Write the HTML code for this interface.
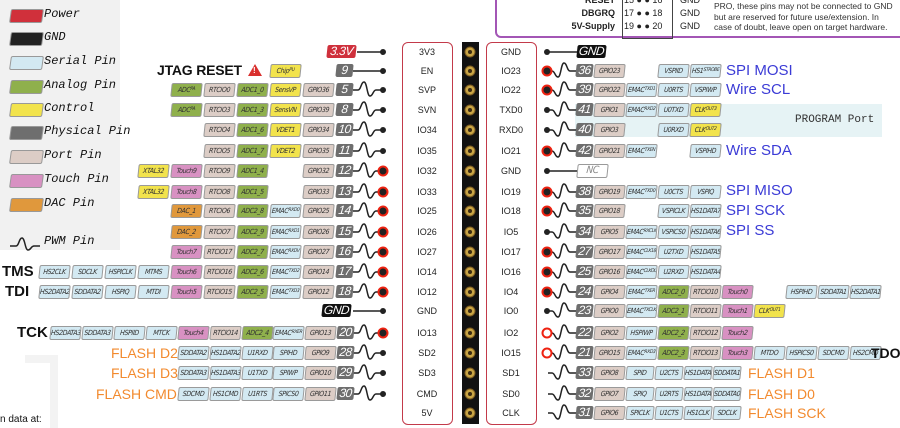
<!DOCTYPE html>
<html><head><meta charset="utf-8"><style>
html,body{margin:0;padding:0;background:#fff;}
#r{position:relative;width:900px;height:428px;overflow:hidden;font-family:"Liberation Sans",sans-serif;}
.t{position:absolute;width:29px;height:12px;border:1px solid #9a9a9a;border-radius:2px;font-style:italic;font-family:"DejaVu Sans Condensed","Liberation Sans Narrow","Liberation Sans",sans-serif;font-size:7px;line-height:12px;text-align:center;color:#333;white-space:nowrap;overflow:hidden;letter-spacing:-0.4px;transform:skewX(-6deg);}
.t sup{font-size:5px;vertical-align:2px;line-height:0;}
.p{background:#dccdc6;}.a{background:#8fb04c;}.c{background:#f2e34c;}.s{background:#d3e9f2;}.h{background:#d891c2;}.d{background:#e0983c;}
.n{position:absolute;width:17px;height:13px;background:#6e6e6e;color:#fff;font-style:italic;font-size:12px;line-height:13px;text-align:center;border-radius:2px;transform:skewX(-6deg);letter-spacing:-0.5px;}
.lb{position:absolute;font-size:9px;width:48px;text-align:center;color:#222;}
.lg{position:absolute;left:44px;font-style:italic;font-size:12px;font-family:"Liberation Mono",monospace;color:#111;}
.sw{position:absolute;left:10px;width:31px;height:12px;border:1px solid #999;border-radius:2px;transform:skewX(-8deg);}
.bl{position:absolute;font-size:15px;color:#3b3bd6;}
.or{position:absolute;font-size:14px;color:#f28a2e;}
.bk{position:absolute;font-size:15px;font-weight:bold;color:#111;}
.f .t{width:26px;}
</style></head><body><div id="r">

<div style="position:absolute;left:0;top:0;width:120px;height:250px;background:#f1f1f1;"></div>
<div class="sw" style="top:9px;background:#d0303b"></div><div class="lg" style="top:7px">Power</div>
<div class="sw" style="top:32px;background:#222"></div><div class="lg" style="top:30px">GND</div>
<div class="sw" style="top:56px;background:#d3e9f2"></div><div class="lg" style="top:54px">Serial Pin</div>
<div class="sw" style="top:80px;background:#8fb04c"></div><div class="lg" style="top:78px">Analog Pin</div>
<div class="sw" style="top:103px;background:#f2e34c"></div><div class="lg" style="top:101px">Control</div>
<div class="sw" style="top:126px;background:#6e6e6e"></div><div class="lg" style="top:124px">Physical Pin</div>
<div class="sw" style="top:150px;background:#dccdc6"></div><div class="lg" style="top:148px">Port Pin</div>
<div class="sw" style="top:174px;background:#d891c2"></div><div class="lg" style="top:172px">Touch Pin</div>
<div class="sw" style="top:198px;background:#e0983c"></div><div class="lg" style="top:196px">DAC Pin</div>
<div class="lg" style="top:234px">PWM Pin</div>
<div style="position:absolute;left:25px;top:355px;width:25px;height:65px;border-top:8px solid #f3f3f3;border-right:8px solid #f3f3f3;"></div>
<div style="position:absolute;left:0;top:414px;font-size:10px;color:#111">n data at:</div>

<div style="position:absolute;left:495px;top:-6px;width:420px;height:40px;border:2px solid #a356b5;border-radius:6px;"></div>
<div style="position:absolute;left:622px;top:-2px;width:49px;height:39px;border:1px solid #444;"></div>
<div style="position:absolute;left:520px;top:-6px;font-size:9px;font-weight:bold;color:#222;line-height:13px;text-align:right;width:95px;">RESET<br>DBGRQ<br>5V-Supply</div>
<div style="position:absolute;left:624px;top:-6px;font-size:9px;color:#222;line-height:13px;">15 ● ● 16<br>17 ● ● 18<br>19 ● ● 20</div>
<div style="position:absolute;left:680px;top:-6px;font-size:9px;color:#222;line-height:13px;">GND<br>GND<br>GND</div>
<div style="position:absolute;left:714px;top:1px;font-size:8.5px;color:#333;line-height:10.5px;">PRO,  these pins may not be connected to GND<br>but are reserved for future use/extension. In<br>case of doubt, leave open on target hardware.</div>

<div style="position:absolute;left:575px;top:104px;width:307px;height:33px;background:#e6f3f5;"></div>
<div style="position:absolute;left:795px;top:114px;font-size:11px;font-family:'Liberation Mono',monospace;color:#333;">PROGRAM Port</div>

<div style="position:absolute;left:402px;top:42px;width:49px;height:381px;border:1px solid #c33a4a;border-radius:6px;"></div>
<div style="position:absolute;left:486px;top:42px;width:49px;height:381px;border:1px solid #c33a4a;border-radius:6px;"></div>

<svg width="900" height="428" style="position:absolute;left:0;top:0" fill="none" stroke="#222" stroke-width="1.5">
<rect x="462" y="42" width="17" height="382" fill="#111" stroke="none"/>
<g fill="#c9a545" stroke="#7a5a20" stroke-width="1">
<circle cx="470" cy="52" r="5"/><circle cx="470" cy="71" r="5"/><circle cx="470" cy="90" r="5"/><circle cx="470" cy="110" r="5"/><circle cx="470" cy="130" r="5"/><circle cx="470" cy="151" r="5"/><circle cx="470" cy="171" r="5"/><circle cx="470" cy="192" r="5"/><circle cx="470" cy="211" r="5"/><circle cx="470" cy="232" r="5"/><circle cx="470" cy="252" r="5"/><circle cx="470" cy="272" r="5"/><circle cx="470" cy="292" r="5"/><circle cx="470" cy="311" r="5"/><circle cx="470" cy="333" r="5"/><circle cx="470" cy="353" r="5"/><circle cx="470" cy="373" r="5"/><circle cx="470" cy="394" r="5"/><circle cx="470" cy="413" r="5"/>
</g>
<g fill="#3a2a10" stroke="none">
<circle cx="470" cy="52" r="2"/><circle cx="470" cy="71" r="2"/><circle cx="470" cy="90" r="2"/><circle cx="470" cy="110" r="2"/><circle cx="470" cy="130" r="2"/><circle cx="470" cy="151" r="2"/><circle cx="470" cy="171" r="2"/><circle cx="470" cy="192" r="2"/><circle cx="470" cy="211" r="2"/><circle cx="470" cy="232" r="2"/><circle cx="470" cy="252" r="2"/><circle cx="470" cy="272" r="2"/><circle cx="470" cy="292" r="2"/><circle cx="470" cy="311" r="2"/><circle cx="470" cy="333" r="2"/><circle cx="470" cy="353" r="2"/><circle cx="470" cy="373" r="2"/><circle cx="470" cy="394" r="2"/><circle cx="470" cy="413" r="2"/>
</g>
<path d="M10,246 h6 c3,0 3,-8 6,-8 c3,0 3,12 6,12 c3,0 3,-4 6,-4 h6"/>
<path d="M357,52 h26 M353,71 h30 M353,311 h30"/>
<g>
<path d="M353,90 h5 c3,0 3,-8 6,-8 c3,0 3,14 6,14 c3,0 3,-6 6,-6 h7"/>
<path d="M353,110 h5 c3,0 3,-8 6,-8 c3,0 3,14 6,14 c3,0 3,-6 6,-6 h7"/>
<path d="M353,130 h5 c3,0 3,-8 6,-8 c3,0 3,14 6,14 c3,0 3,-6 6,-6 h7"/>
<path d="M353,151 h5 c3,0 3,-8 6,-8 c3,0 3,14 6,14 c3,0 3,-6 6,-6 h7"/>
<path d="M353,171 h5 c3,0 3,-8 6,-8 c3,0 3,14 6,14 c3,0 3,-6 6,-6 h7"/>
<path d="M353,192 h5 c3,0 3,-8 6,-8 c3,0 3,14 6,14 c3,0 3,-6 6,-6 h7"/>
<path d="M353,211 h5 c3,0 3,-8 6,-8 c3,0 3,14 6,14 c3,0 3,-6 6,-6 h7"/>
<path d="M353,232 h5 c3,0 3,-8 6,-8 c3,0 3,14 6,14 c3,0 3,-6 6,-6 h7"/>
<path d="M353,252 h5 c3,0 3,-8 6,-8 c3,0 3,14 6,14 c3,0 3,-6 6,-6 h7"/>
<path d="M353,272 h5 c3,0 3,-8 6,-8 c3,0 3,14 6,14 c3,0 3,-6 6,-6 h7"/>
<path d="M353,292 h5 c3,0 3,-8 6,-8 c3,0 3,14 6,14 c3,0 3,-6 6,-6 h7"/>
<path d="M353,333 h5 c3,0 3,-8 6,-8 c3,0 3,14 6,14 c3,0 3,-6 6,-6 h7"/>
<path d="M353,353 h5 c3,0 3,-8 6,-8 c3,0 3,14 6,14 c3,0 3,-6 6,-6 h7"/>
<path d="M353,373 h5 c3,0 3,-8 6,-8 c3,0 3,14 6,14 c3,0 3,-6 6,-6 h7"/>
<path d="M353,394 h5 c3,0 3,-8 6,-8 c3,0 3,14 6,14 c3,0 3,-6 6,-6 h7"/>
</g>
<g fill="#222" stroke="none">
<circle cx="383" cy="52" r="3"/><circle cx="383" cy="71" r="3"/><circle cx="383" cy="90" r="3"/><circle cx="383" cy="110" r="3"/><circle cx="383" cy="130" r="3"/><circle cx="383" cy="151" r="3"/><circle cx="383" cy="311" r="3"/><circle cx="383" cy="353" r="3"/><circle cx="383" cy="373" r="3"/><circle cx="383" cy="394" r="3"/>
</g>
<g fill="#222" stroke="#e21" stroke-width="2">
<circle cx="383" cy="171" r="4.5"/><circle cx="383" cy="192" r="4.5"/><circle cx="383" cy="211" r="4.5"/><circle cx="383" cy="232" r="4.5"/><circle cx="383" cy="252" r="4.5"/><circle cx="383" cy="272" r="4.5"/><circle cx="383" cy="292" r="4.5"/><circle cx="383" cy="333" r="4.5"/>
</g>
<path d="M547,52 h30 M547,171 h30"/>
<g>
<path d="M548,71 h4 c3,0 3,6 6,6 c3,0 3,-14 6,-14 c3,0 3,8 6,8 h7"/>
<path d="M548,90 h4 c3,0 3,6 6,6 c3,0 3,-14 6,-14 c3,0 3,8 6,8 h7"/>
<path d="M548,110 h4 c3,0 3,6 6,6 c3,0 3,-14 6,-14 c3,0 3,8 6,8 h7"/>
<path d="M548,130 h4 c3,0 3,6 6,6 c3,0 3,-14 6,-14 c3,0 3,8 6,8 h7"/>
<path d="M548,151 h4 c3,0 3,6 6,6 c3,0 3,-14 6,-14 c3,0 3,8 6,8 h7"/>
<path d="M548,192 h4 c3,0 3,6 6,6 c3,0 3,-14 6,-14 c3,0 3,8 6,8 h7"/>
<path d="M548,211 h4 c3,0 3,6 6,6 c3,0 3,-14 6,-14 c3,0 3,8 6,8 h7"/>
<path d="M548,232 h4 c3,0 3,6 6,6 c3,0 3,-14 6,-14 c3,0 3,8 6,8 h7"/>
<path d="M548,252 h4 c3,0 3,6 6,6 c3,0 3,-14 6,-14 c3,0 3,8 6,8 h7"/>
<path d="M548,272 h4 c3,0 3,6 6,6 c3,0 3,-14 6,-14 c3,0 3,8 6,8 h7"/>
<path d="M548,292 h4 c3,0 3,6 6,6 c3,0 3,-14 6,-14 c3,0 3,8 6,8 h7"/>
<path d="M548,311 h4 c3,0 3,6 6,6 c3,0 3,-14 6,-14 c3,0 3,8 6,8 h7"/>
<path d="M548,333 h4 c3,0 3,6 6,6 c3,0 3,-14 6,-14 c3,0 3,8 6,8 h7"/>
<path d="M548,353 h4 c3,0 3,6 6,6 c3,0 3,-14 6,-14 c3,0 3,8 6,8 h7"/>
<path d="M548,373 h4 c3,0 3,6 6,6 c3,0 3,-14 6,-14 c3,0 3,8 6,8 h7"/>
<path d="M548,394 h4 c3,0 3,6 6,6 c3,0 3,-14 6,-14 c3,0 3,8 6,8 h7"/>
<path d="M548,413 h4 c3,0 3,6 6,6 c3,0 3,-14 6,-14 c3,0 3,8 6,8 h7"/>
</g>
<g fill="#222" stroke="none">
<circle cx="547" cy="52" r="3"/><circle cx="547" cy="110" r="3"/><circle cx="547" cy="130" r="3"/><circle cx="547" cy="171" r="3"/><circle cx="547" cy="232" r="3"/><circle cx="547" cy="311" r="3"/>
</g>
<g fill="#222" stroke="#e21" stroke-width="2">
<circle cx="547" cy="71" r="4.5"/><circle cx="547" cy="90" r="4.5"/><circle cx="547" cy="151" r="4.5"/><circle cx="547" cy="192" r="4.5"/><circle cx="547" cy="211" r="4.5"/><circle cx="547" cy="252" r="4.5"/><circle cx="547" cy="272" r="4.5"/><circle cx="547" cy="292" r="4.5"/>
</g>
<g fill="#fff" stroke="#e21" stroke-width="2">
<circle cx="547" cy="333" r="4.5"/><circle cx="547" cy="353" r="4.5"/>
</g>
<path d="M255,64 l-7,12 h14 z" fill="#d9302e" stroke="none"/>
</svg>
<div style="position:absolute;left:253px;top:66px;font-size:8px;font-weight:bold;color:#fff;">!</div>

<div class="lb" style="left:403px;top:47px">3V3</div><div class="lb" style="left:403px;top:66px">EN</div><div class="lb" style="left:403px;top:85px">SVP</div><div class="lb" style="left:403px;top:105px">SVN</div><div class="lb" style="left:403px;top:125px">IO34</div><div class="lb" style="left:403px;top:146px">IO35</div><div class="lb" style="left:403px;top:166px">IO32</div><div class="lb" style="left:403px;top:187px">IO33</div><div class="lb" style="left:403px;top:206px">IO25</div><div class="lb" style="left:403px;top:227px">IO26</div><div class="lb" style="left:403px;top:247px">IO27</div><div class="lb" style="left:403px;top:267px">IO14</div><div class="lb" style="left:403px;top:287px">IO12</div><div class="lb" style="left:403px;top:306px">GND</div><div class="lb" style="left:403px;top:328px">IO13</div><div class="lb" style="left:403px;top:348px">SD2</div><div class="lb" style="left:403px;top:368px">SD3</div><div class="lb" style="left:403px;top:389px">CMD</div><div class="lb" style="left:403px;top:408px">5V</div>
<div class="lb" style="left:487px;top:47px">GND</div><div class="lb" style="left:487px;top:66px">IO23</div><div class="lb" style="left:487px;top:85px">IO22</div><div class="lb" style="left:487px;top:105px">TXD0</div><div class="lb" style="left:487px;top:125px">RXD0</div><div class="lb" style="left:487px;top:146px">IO21</div><div class="lb" style="left:487px;top:166px">GND</div><div class="lb" style="left:487px;top:187px">IO19</div><div class="lb" style="left:487px;top:206px">IO18</div><div class="lb" style="left:487px;top:227px">IO5</div><div class="lb" style="left:487px;top:247px">IO17</div><div class="lb" style="left:487px;top:267px">IO16</div><div class="lb" style="left:487px;top:287px">IO4</div><div class="lb" style="left:487px;top:306px">IO0</div><div class="lb" style="left:487px;top:328px">IO2</div><div class="lb" style="left:487px;top:348px">IO15</div><div class="lb" style="left:487px;top:368px">SD1</div><div class="lb" style="left:487px;top:389px">SD0</div><div class="lb" style="left:487px;top:408px">CLK</div>

<div class="n" style="left:327px;top:45px;width:29px;background:#cf303c;">3.3V</div>
<div class="bk" style="left:157px;top:62px;font-size:14px;letter-spacing:-0.2px;">JTAG RESET</div>
<i class="t c" style="left:270px;top:64px">Chip<sup>PU</sup></i><div class="n" style="left:336px;top:64px">9</div>

<i class="t a" style="left:171px;top:83px">ADC<sup>PA</sup></i><i class="t p" style="left:204px;top:83px">RTCIO0</i><i class="t a" style="left:237px;top:83px">ADC1_0</i><i class="t c" style="left:270px;top:83px">SensVP</i><i class="t p" style="left:303px;top:83px">GPIO36</i><div class="n" style="left:336px;top:83px">5</div>
<i class="t a" style="left:171px;top:103px">ADC<sup>PA</sup></i><i class="t p" style="left:204px;top:103px">RTCIO3</i><i class="t a" style="left:237px;top:103px">ADC1_3</i><i class="t c" style="left:270px;top:103px">SensVN</i><i class="t p" style="left:303px;top:103px">GPIO39</i><div class="n" style="left:336px;top:103px">8</div>
<i class="t p" style="left:204px;top:123px">RTCIO4</i><i class="t a" style="left:237px;top:123px">ADC1_6</i><i class="t c" style="left:270px;top:123px">VDET1</i><i class="t p" style="left:303px;top:123px">GPIO34</i><div class="n" style="left:336px;top:123px">10</div>
<i class="t p" style="left:204px;top:144px">RTCIO5</i><i class="t a" style="left:237px;top:144px">ADC1_7</i><i class="t c" style="left:270px;top:144px">VDET2</i><i class="t p" style="left:303px;top:144px">GPIO35</i><div class="n" style="left:336px;top:144px">11</div>
<i class="t c" style="left:138px;top:164px">XTAL32</i><i class="t h" style="left:171px;top:164px">Touch9</i><i class="t p" style="left:204px;top:164px">RTCIO9</i><i class="t a" style="left:237px;top:164px">ADC1_4</i><i class="t p" style="left:303px;top:164px">GPIO32</i><div class="n" style="left:336px;top:164px">12</div>
<i class="t c" style="left:138px;top:185px">XTAL32</i><i class="t h" style="left:171px;top:185px">Touch8</i><i class="t p" style="left:204px;top:185px">RTCIO8</i><i class="t a" style="left:237px;top:185px">ADC1_5</i><i class="t p" style="left:303px;top:185px">GPIO33</i><div class="n" style="left:336px;top:185px">13</div>
<i class="t d" style="left:171px;top:204px">DAC_1</i><i class="t p" style="left:204px;top:204px">RTCIO6</i><i class="t a" style="left:237px;top:204px">ADC2_8</i><i class="t s" style="left:270px;top:204px">EMAC<sup>RXD0</sup></i><i class="t p" style="left:303px;top:204px">GPIO25</i><div class="n" style="left:336px;top:204px">14</div>
<i class="t d" style="left:171px;top:225px">DAC_2</i><i class="t p" style="left:204px;top:225px">RTCIO7</i><i class="t a" style="left:237px;top:225px">ADC2_9</i><i class="t s" style="left:270px;top:225px">EMAC<sup>RXD1</sup></i><i class="t p" style="left:303px;top:225px">GPIO26</i><div class="n" style="left:336px;top:225px">15</div>
<i class="t h" style="left:171px;top:245px">Touch7</i><i class="t p" style="left:204px;top:245px">RTCIO17</i><i class="t a" style="left:237px;top:245px">ADC2_7</i><i class="t s" style="left:270px;top:245px">EMAC<sup>RXDV</sup></i><i class="t p" style="left:303px;top:245px">GPIO27</i><div class="n" style="left:336px;top:245px">16</div>
<div class="bk" style="left:2px;top:263px;">TMS</div>
<i class="t s" style="left:39px;top:265px">HS2CLK</i><i class="t s" style="left:72px;top:265px">SDCLK</i><i class="t s" style="left:105px;top:265px">HSPICLK</i><i class="t s" style="left:138px;top:265px">MTMS</i><i class="t h" style="left:171px;top:265px">Touch6</i><i class="t p" style="left:204px;top:265px">RTCIO16</i><i class="t a" style="left:237px;top:265px">ADC2_6</i><i class="t s" style="left:270px;top:265px">EMAC<sup>TXD2</sup></i><i class="t p" style="left:303px;top:265px">GPIO14</i><div class="n" style="left:336px;top:265px">17</div>
<div class="bk" style="left:5px;top:283px;">TDI</div>
<i class="t s" style="left:39px;top:285px">HS2DATA2</i><i class="t s" style="left:72px;top:285px">SDDATA2</i><i class="t s" style="left:105px;top:285px">HSPIQ</i><i class="t s" style="left:138px;top:285px">MTDI</i><i class="t h" style="left:171px;top:285px">Touch5</i><i class="t p" style="left:204px;top:285px">RTCIO15</i><i class="t a" style="left:237px;top:285px">ADC2_5</i><i class="t s" style="left:270px;top:285px">EMAC<sup>TXD3</sup></i><i class="t p" style="left:303px;top:285px">GPIO12</i><div class="n" style="left:336px;top:285px">18</div>
<div class="n" style="left:322px;top:304px;width:29px;background:#111;">GND</div>
<div class="bk" style="left:17px;top:324px;">TCK</div>
<i class="t s" style="left:50px;top:326px">HS2DATA3</i><i class="t s" style="left:82px;top:326px">SDDATA3</i><i class="t s" style="left:114px;top:326px">HSPIID</i><i class="t s" style="left:146px;top:326px">MTCK</i><i class="t h" style="left:178px;top:326px">Touch4</i><i class="t p" style="left:210px;top:326px">RTCIO14</i><i class="t a" style="left:242px;top:326px">ADC2_4</i><i class="t s" style="left:273px;top:326px">EMAC<sup>RXER</sup></i><i class="t p" style="left:305px;top:326px">GPIO13</i><div class="n" style="left:337px;top:326px">20</div>
<div class="or" style="left:111px;top:345px">FLASH D2</div>
<i class="t s" style="left:178px;top:346px">SDDATA2</i><i class="t s" style="left:210px;top:346px">HS1DATA2</i><i class="t s" style="left:242px;top:346px">U1RXD</i><i class="t s" style="left:273px;top:346px">SPIHD</i><i class="t p" style="left:305px;top:346px">GPIO9</i><div class="n" style="left:337px;top:346px">28</div>
<div class="or" style="left:111px;top:365px">FLASH D3</div>
<i class="t s" style="left:178px;top:366px">SDDATA3</i><i class="t s" style="left:210px;top:366px">HS1DATA3</i><i class="t s" style="left:242px;top:366px">U1TXD</i><i class="t s" style="left:273px;top:366px">SPIWP</i><i class="t p" style="left:305px;top:366px">GPIO10</i><div class="n" style="left:337px;top:366px">29</div>
<div class="or" style="left:96px;top:386px">FLASH CMD</div>
<i class="t s" style="left:178px;top:387px">SDCMD</i><i class="t s" style="left:210px;top:387px">HS1CMD</i><i class="t s" style="left:242px;top:387px">U1RTS</i><i class="t s" style="left:273px;top:387px">SPICS0</i><i class="t p" style="left:305px;top:387px">GPIO11</i><div class="n" style="left:337px;top:387px">30</div>

<div class="n" style="left:577px;top:45px;width:29px;background:#111;">GND</div>
<div class="n" style="left:576px;top:64px">36</div><i class="t p" style="left:594px;top:64px">GPIO23</i><i class="t s" style="left:658px;top:64px">VSPIID</i><i class="t s" style="left:690px;top:64px">HS1<sup>STROBE</sup></i><div class="bl" style="left:726px;top:62px">SPI MOSI</div>
<div class="n" style="left:576px;top:83px">39</div><i class="t p" style="left:594px;top:83px">GPIO22</i><i class="t s" style="left:626px;top:83px">EMAC<sup>TXD1</sup></i><i class="t s" style="left:658px;top:83px">U0RTS</i><i class="t s" style="left:690px;top:83px">VSPIWP</i><div class="bl" style="left:726px;top:81px">Wire SCL</div>
<div class="n" style="left:576px;top:103px">41</div><i class="t p" style="left:594px;top:103px">GPIO1</i><i class="t s" style="left:626px;top:103px">EMAC<sup>RXD2</sup></i><i class="t s" style="left:658px;top:103px">U0TXD</i><i class="t c" style="left:690px;top:103px">CLK<sup>OUT3</sup></i>
<div class="n" style="left:576px;top:123px">40</div><i class="t p" style="left:594px;top:123px">GPIO3</i><i class="t s" style="left:658px;top:123px">U0RXD</i><i class="t c" style="left:690px;top:123px">CLK<sup>OUT2</sup></i>
<div class="n" style="left:576px;top:144px">42</div><i class="t p" style="left:594px;top:144px">GPIO21</i><i class="t s" style="left:626px;top:144px">EMAC<sup>TXEN</sup></i><i class="t s" style="left:690px;top:144px">VSPIHD</i><div class="bl" style="left:726px;top:142px">Wire SDA</div>
<div class="t" style="left:577px;top:164px;background:#fff;color:#888;font-size:10px;">NC</div>
<div class="n" style="left:576px;top:185px">38</div><i class="t p" style="left:594px;top:185px">GPIO19</i><i class="t s" style="left:626px;top:185px">EMAC<sup>TXD0</sup></i><i class="t s" style="left:658px;top:185px">U0CTS</i><i class="t s" style="left:690px;top:185px">VSPIQ</i><div class="bl" style="left:726px;top:182px">SPI MISO</div>
<div class="n" style="left:576px;top:204px">35</div><i class="t p" style="left:594px;top:204px">GPIO18</i><i class="t s" style="left:658px;top:204px">VSPICLK</i><i class="t s" style="left:690px;top:204px">HS1DATA7</i><div class="bl" style="left:726px;top:202px">SPI SCK</div>
<div class="n" style="left:576px;top:225px">34</div><i class="t p" style="left:594px;top:225px">GPIO5</i><i class="t s" style="left:626px;top:225px">EMAC<sup>RXCLK</sup></i><i class="t s" style="left:658px;top:225px">VSPICS0</i><i class="t s" style="left:690px;top:225px">HS1DATA6</i><div class="bl" style="left:726px;top:222px">SPI SS</div>
<div class="n" style="left:576px;top:245px">27</div><i class="t p" style="left:594px;top:245px">GPIO17</i><i class="t s" style="left:626px;top:245px">EMAC<sup>CLK180</sup></i><i class="t s" style="left:658px;top:245px">U2TXD</i><i class="t s" style="left:690px;top:245px">HS1DATA5</i>
<div class="n" style="left:576px;top:265px">25</div><i class="t p" style="left:594px;top:265px">GPIO16</i><i class="t s" style="left:626px;top:265px">EMAC<sup>CLKOUT</sup></i><i class="t s" style="left:658px;top:265px">U2RXD</i><i class="t s" style="left:690px;top:265px">HS1DATA4</i>
<div class="n" style="left:576px;top:285px">24</div><i class="t p" style="left:594px;top:285px">GPIO4</i><i class="t s" style="left:626px;top:285px">EMAC<sup>TXER</sup></i><i class="t a" style="left:658px;top:285px">ADC2_0</i><i class="t p" style="left:690px;top:285px">RTCIO10</i><i class="t h" style="left:722px;top:285px">Touch0</i><i class="t s" style="left:786px;top:285px">HSPIHD</i><i class="t s" style="left:818px;top:285px">SDDATA1</i><i class="t s" style="left:850px;top:285px">HS2DATA1</i>
<div class="n" style="left:576px;top:304px">23</div><i class="t p" style="left:594px;top:304px">GPIO0</i><i class="t s" style="left:626px;top:304px">EMAC<sup>TXCLK</sup></i><i class="t a" style="left:658px;top:304px">ADC2_1</i><i class="t p" style="left:690px;top:304px">RTCIO11</i><i class="t h" style="left:722px;top:304px">Touch1</i><i class="t c" style="left:754px;top:304px">CLK<sup>OUT1</sup></i>
<div class="n" style="left:576px;top:326px">22</div><i class="t p" style="left:594px;top:326px">GPIO2</i><i class="t s" style="left:626px;top:326px">HSPIWP</i><i class="t a" style="left:658px;top:326px">ADC2_2</i><i class="t p" style="left:690px;top:326px">RTCIO12</i><i class="t h" style="left:722px;top:326px">Touch2</i>
<div class="n" style="left:576px;top:346px">21</div><i class="t p" style="left:594px;top:346px">GPIO15</i><i class="t s" style="left:626px;top:346px">EMAC<sup>RXD3</sup></i><i class="t a" style="left:658px;top:346px">ADC2_3</i><i class="t p" style="left:690px;top:346px">RTCIO13</i><i class="t h" style="left:722px;top:346px">Touch3</i><i class="t s" style="left:754px;top:346px">MTDO</i><i class="t s" style="left:786px;top:346px">HSPICS0</i><i class="t s" style="left:818px;top:346px">SDCMD</i><i class="t s" style="left:850px;top:346px">HS2CMD</i><div class="bk" style="left:871px;top:345px;font-size:14px;">TDO</div>
<div class="f">
<div class="n" style="left:576px;top:366px">33</div><i class="t p" style="left:594px;top:366px;width:29px">GPIO8</i><i class="t s" style="left:626px;top:366px">SPID</i><i class="t s" style="left:655px;top:366px">U2CTS</i><i class="t s" style="left:684px;top:366px">HS1DATA1</i><i class="t s" style="left:713px;top:366px">SDDATA1</i><div class="or" style="left:748px;top:365px">FLASH D1</div>
<div class="n" style="left:576px;top:387px">32</div><i class="t p" style="left:594px;top:387px;width:29px">GPIO7</i><i class="t s" style="left:626px;top:387px">SPIQ</i><i class="t s" style="left:655px;top:387px">U2RTS</i><i class="t s" style="left:684px;top:387px">HS1DATA0</i><i class="t s" style="left:713px;top:387px">SDDATA0</i><div class="or" style="left:748px;top:386px">FLASH D0</div>
<div class="n" style="left:576px;top:406px">31</div><i class="t p" style="left:594px;top:406px;width:29px">GPIO6</i><i class="t s" style="left:626px;top:406px">SPICLK</i><i class="t s" style="left:655px;top:406px">U1CTS</i><i class="t s" style="left:684px;top:406px">HS1CLK</i><i class="t s" style="left:713px;top:406px">SDCLK</i><div class="or" style="left:748px;top:405px">FLASH SCK</div>
</div>

</div></body></html>
